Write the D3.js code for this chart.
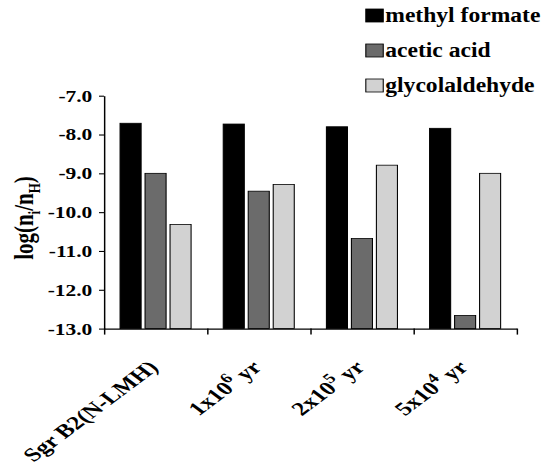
<!DOCTYPE html>
<html>
<head>
<meta charset="utf-8">
<script src="https://cdn.jsdelivr.net/npm/d3@7"></script>
<style>
  html, body { margin: 0; padding: 0; background: #fff; }
  svg { display: block; }
  text { font-family: "Liberation Serif", "DejaVu Serif", serif; font-weight: bold; fill: #000; }
</style>
</head>
<body>
<div id="app"></div>
<script>
// data
const categories = ['Sgr B2(N-LMH)', '1x10|6| yr', '2x10|5| yr', '5x10|4| yr']
const seriesNames = ['methyl formate', 'acetic acid', 'glycolaldehyde']
const seriesColors = ['#000000', '#6b6b6b', '#d2d2d2']
const methylFormate = [-7.71, -7.73, -7.80, -7.84]
const aceticAcid = [-9.0, -9.46, -10.68, -12.66]
const glycolaldehyde = [-10.32, -9.29, -8.79, -9.0]
const yTicks = [-7, -8, -9, -10, -11, -12, -13]

const W = 541, H = 476
// the original figure is stretched sideways, so we draw narrow and scale x
const sx = 1.34

const values = [methylFormate, aceticAcid, glycolaldehyde]
const rows = categories.map((c, i) => ({ cat: c, vals: values.map((s) => s[i]) }))

const svg = d3.select('#app').append('svg').attr('width', W).attr('height', H)
const g = svg.append('g').attr('transform', `scale(${sx},1)`)

const plotLeft = 77.6, plotRight = 385.6
const plotTop = 95.7, plotBottom = 328.6

const x = d3.scaleBand().domain(categories).range([plotLeft, plotRight]).padding(0)
const xEdge = d3.scaleLinear().domain([0, categories.length]).range([plotLeft, plotRight])
const xInner = d3.scaleBand().domain(d3.range(seriesNames.length))
  .range([12, x.bandwidth() - 12]).paddingInner(0.158)
const y = d3.scaleLinear().domain([-13, -7]).range([plotBottom, plotTop])

// bars
g.append('g')
  .selectAll('g')
  .data(rows)
  .join('g')
  .attr('transform', (d) => `translate(${x(d.cat)},0)`)
  .selectAll('rect')
  .data((d) => d.vals.map((v, k) => ({ v, k })))
  .join('rect')
  .attr('x', (d) => xInner(d.k))
  .attr('width', xInner.bandwidth())
  .attr('y', (d) => y(d.v))
  .attr('height', (d) => y(-13) - y(d.v))
  .attr('fill', (d) => seriesColors[d.k])
  .attr('stroke', '#000')
  .attr('stroke-width', 0.8)

// y axis
const yAxis = g.append('g')
  .attr('transform', `translate(${plotLeft},0)`)
  .call(d3.axisLeft(y).tickValues(yTicks).tickSize(3.7).tickSizeOuter(0).tickPadding(5)
    .tickFormat(d3.format('.1f')))
yAxis.attr('font-family', null)
yAxis.selectAll('path, line').attr('stroke', '#000').attr('stroke-width', 1.1)
yAxis.selectAll('text').attr('font-size', 16).attr('dy', '0.34em')
  .text((d) => d3.format('.1f')(d).replace('−', '-'))

// x axis: ticks on category boundaries
const xAxis = g.append('g')
  .attr('transform', `translate(0,${plotBottom})`)
  .call(d3.axisBottom(xEdge).tickValues(d3.range(categories.length + 1))
    .tickSize(6).tickSizeOuter(0).tickFormat(''))
xAxis.selectAll('path, line').attr('stroke', '#000').attr('stroke-width', 1.1)

// category labels, rotated
const labels = g.append('g')
  .selectAll('text')
  .data(categories)
  .join('text')
  .attr('text-anchor', 'end')
  .attr('font-size', 19)
  .attr('transform', (d) => `translate(${x(d) + x.bandwidth() / 2 + 3},${plotBottom + 40}) rotate(-45)`)
labels.each(function (d) {
  const parts = d.split('|')
  const t = d3.select(this)
  t.append('tspan').text(parts[0])
  if (parts.length > 1) {
    t.append('tspan').attr('font-size', 14).attr('dy', -8).text(parts[1])
    t.append('tspan').attr('dy', 8).text(parts[2])
  }
})

// y label
const yl = g.append('text')
  .attr('text-anchor', 'middle')
  .attr('font-size', 21)
  .attr('transform', `translate(24.6,218) rotate(-90)`)
yl.append('tspan').text('log(n')
yl.append('tspan').attr('font-size', 13).attr('dy', 5).text('i')
yl.append('tspan').attr('dy', -5).text('/n')
yl.append('tspan').attr('font-size', 13).attr('dy', 5).text('H')
yl.append('tspan').attr('dy', -5).text(')')

// legend
const legend = g.append('g')
  .selectAll('g')
  .data(seriesNames)
  .join('g')
  .attr('transform', (d, i) => `translate(273,${15.5 + i * 35})`)
legend.append('rect')
  .attr('x', 0).attr('y', -6.5).attr('width', 13).attr('height', 13)
  .attr('fill', (d, i) => seriesColors[i])
  .attr('stroke', '#000').attr('stroke-width', 0.8)
legend.append('text')
  .attr('transform', 'translate(14.5,0) scale(0.88,1)')
  .attr('dy', '0.33em')
  .attr('font-size', 20)
  .text((d) => d)
</script>
</body>
</html>
